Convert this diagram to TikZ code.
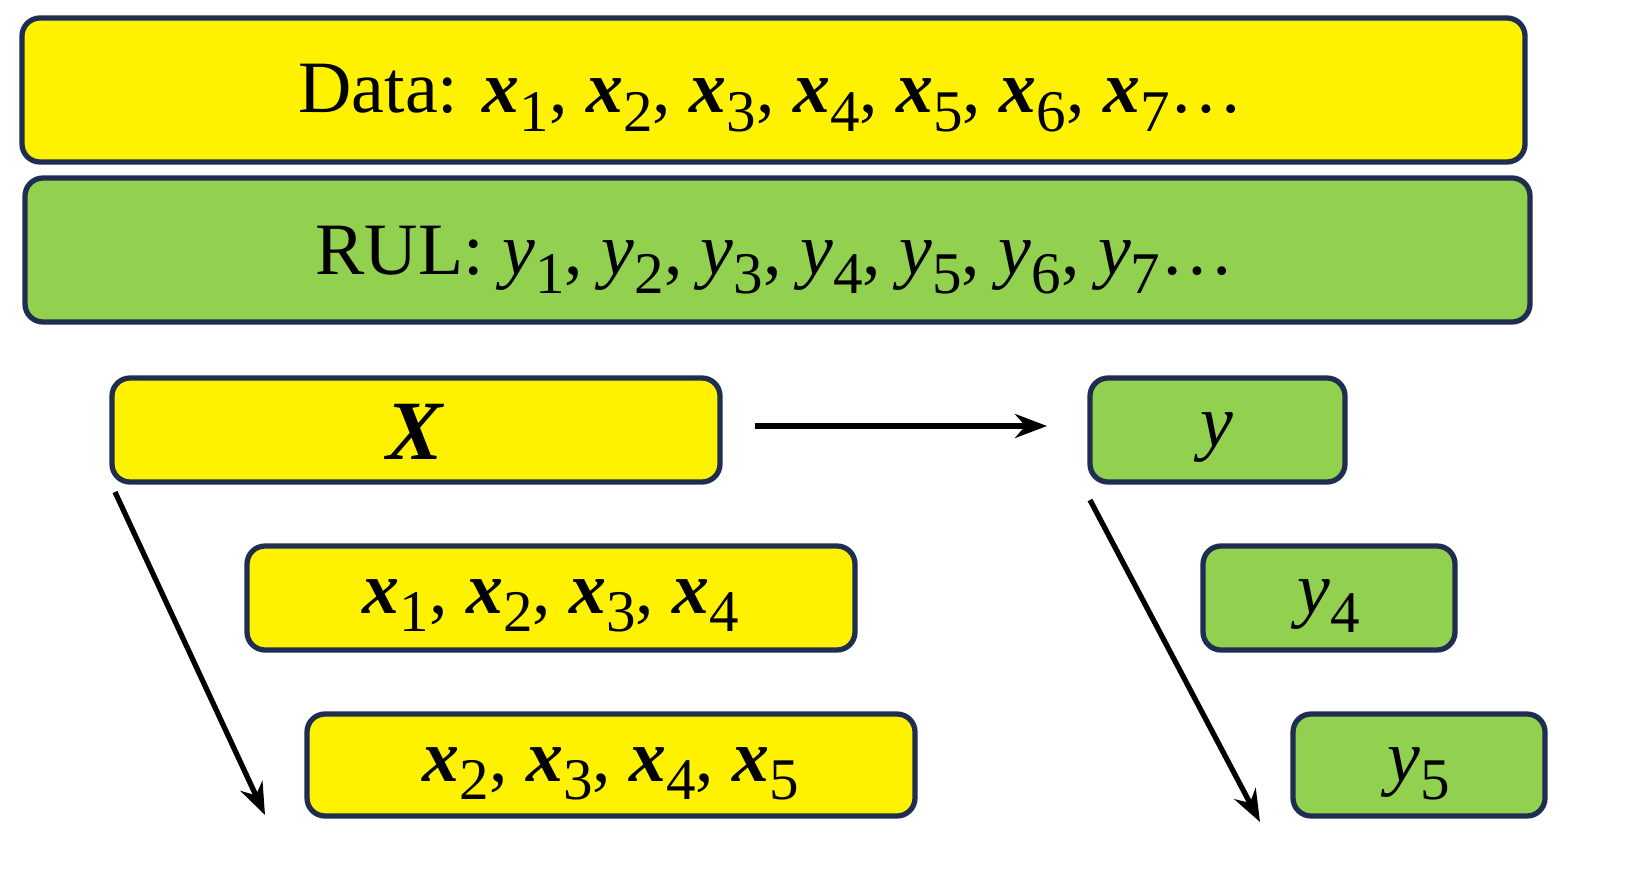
\documentclass[tikz,border=0pt]{standalone}
\usepackage{fontspec}
\setmainfont{Liberation Serif}
\usepackage{graphicx}
\usetikzlibrary{arrows.meta}
\newcommand\bx[1]{\textbf{\textit{x}}\raisebox{-0.55ex}{\scalebox{0.8}{#1}}}
\newcommand\iy[1]{\textit{y}\raisebox{-0.55ex}{\scalebox{0.8}{#1}}}
\definecolor{edge}{RGB}{31,45,80}
\definecolor{grfill}{RGB}{146,208,80}
\begin{document}
\begin{tikzpicture}[x=0.01cm,y=-0.01cm,
  box/.style={draw=edge,line width=1.5pt,rounded corners=0.18cm},
  yel/.style={box,fill=yellow},
  grn/.style={box,fill=grfill},
  txt/.style={font=\fontsize{21}{24}\selectfont,inner sep=0pt},
  arr/.style={line width=1.5pt,-{Stealth[length=0.32cm,width=0.24cm]}}]
\useasboundingbox (0,0) rectangle (1649,891);
\draw[yel] (22,18) rectangle (1525,162);
\draw[grn] (25,178) rectangle (1530,322);
\draw[yel] (112,378) rectangle (720,482);
\draw[grn] (1090,378) rectangle (1345,482);
\draw[yel] (247,546) rectangle (855,650);
\draw[grn] (1203,546) rectangle (1455,650);
\draw[yel] (307,714) rectangle (915,816);
\draw[grn] (1293,714) rectangle (1545,816);
\node[txt] (d) at (771,98) {Data: \bx1, \bx2, \bx3, \bx4, \bx5, \bx6, \bx7\ldots};
\node[txt] (r) at (775,260) {RUL: \iy1, \iy2, \iy3, \iy4, \iy5, \iy6, \iy7\ldots};
\node[txt,font=\fontsize{24}{28}\selectfont] (X) at (416,432) {\textbf{\textit{X}}};
\node[txt] (y) at (1217,438) {\textit{y}};
\node[txt] (a) at (551,606) {\bx1, \bx2, \bx3, \bx4};
\node[txt] (b) at (611,774) {\bx2, \bx3, \bx4, \bx5};
\node[txt] (y4) at (1329,606) {\iy4};
\node[txt] (y5) at (1419,774) {\iy5};
\coordinate (a1) at (755,426); \coordinate (a2) at (1047,426);
\coordinate (b1) at (115,492); \coordinate (b2) at (265,815);
\coordinate (c1) at (1090,500); \coordinate (c2) at (1260,822);
\draw[arr] (a1) -- (a2);
\draw[arr] (b1) -- (b2);
\draw[arr] (c1) -- (c2);
\end{tikzpicture}
\end{document}
